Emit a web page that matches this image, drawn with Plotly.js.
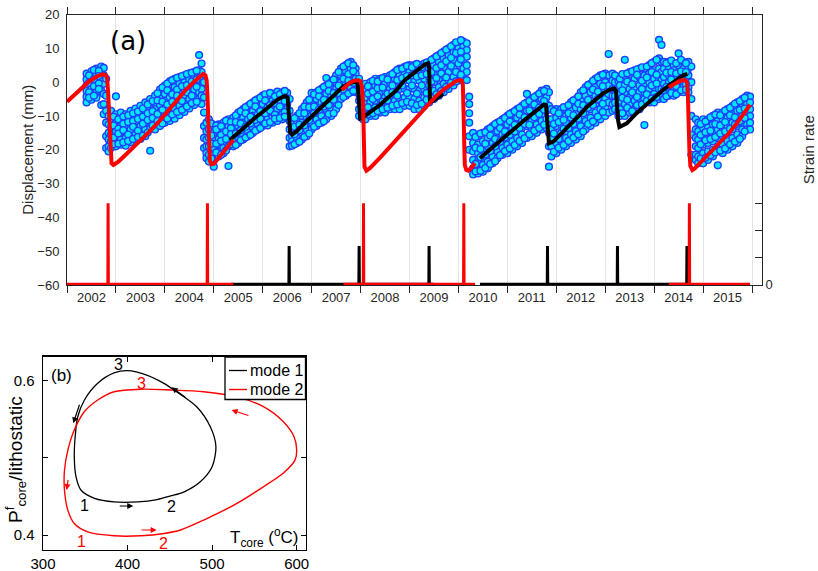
<!DOCTYPE html>
<html>
<head>
<meta charset="utf-8">
<script src="https://cdn.plot.ly/plotly-3.0.1.min.js"></script>
<style>html,body{margin:0;padding:0;background:#fff;}#chart{width:818px;height:571px;}</style>
</head>
<body>
<div id="chart"></div>
<script>
// ---------------- Panel (a) data ----------------
// GPS displacement (mm): sample times (decimal year) and the values observed at each time
const gpsT = [2002.4,2002.5,2002.6,2002.7,2002.75,2002.8,2002.85,2002.9,2003.0,2003.1,2003.2,2003.3,2003.4,2003.5,2003.6,2003.7,2003.8,2003.9,
2004.0,2004.1,2004.2,2004.3,2004.4,2004.5,2004.6,2004.7,2004.75,2004.8,2004.85,2004.9,2005.0,2005.1,2005.2,2005.3,2005.4,2005.5,2005.6,2005.7,2005.8,2005.9,
2006.0,2006.1,2006.2,2006.3,2006.4,2006.5,2006.55,2006.6,2006.7,2006.8,2006.9,2007.0,2007.1,2007.2,2007.3,2007.4,2007.5,2007.6,2007.7,2007.8,2007.9,2007.97,
2008.05,2008.1,2008.2,2008.3,2008.4,2008.5,2008.6,2008.7,2008.8,2008.9,2009.0,2009.1,2009.2,2009.3,2009.4,2009.5,2009.6,2009.7,2009.8,2009.9,
2010.0,2010.1,2010.17,2010.22,2010.3,2010.4,2010.5,2010.6,2010.7,2010.8,2010.9,2011.0,2011.1,2011.2,2011.3,2011.4,2011.5,2011.6,2011.7,2011.8,2011.85,2011.9,
2012.0,2012.1,2012.2,2012.3,2012.4,2012.5,2012.6,2012.7,2012.8,2012.9,2013.0,2013.07,2013.15,2013.2,2013.27,2013.3,2013.4,2013.5,2013.6,2013.7,2013.8,2013.9,
2014.0,2014.1,2014.15,2014.2,2014.3,2014.4,2014.5,2014.6,2014.7,2014.76,2014.85,2014.9,2015.0,2015.1,2015.2,2015.3,2015.4,2015.5,2015.6,2015.7,2015.8,2015.9,2015.96];
const gpsY = [
[2.5,0.8,-1.0,-2.6,-4.3,-6.0],[3.2,1.5,-0.3,-2.0,-3.5,-5.2],[4.0,2.4,0.6,-1.2,-3.0,-4.6],[4.6,3.0,1.3,-0.8,-2.6,-6.8],[4.2,2.0,-0.5,-3.5,-6.5,-9.5],
[1.0,-4.0,-8.5,-12.0,-16.0,-19.5],[-10.0,-12.5,-15.0,-17.0,-19.0,-20.5],[-8.5,-11.0,-13.5,-15.5,-17.5,-19.5],[-4.2,-9.5,-12.0,-14.5,-16.5,-19.0],
[-9.0,-11.5,-13.0,-15.5,-17.0,-18.5],[-9.5,-10.8,-13.0,-14.8,-16.5,-18.8],[-8.5,-10.5,-12.5,-14.0,-16.0,-17.8],[-7.8,-10.0,-12.2,-13.5,-15.5,-17.0],
[-7.0,-9.5,-11.0,-13.0,-15.0,-16.8],[-6.0,-8.5,-10.5,-12.0,-14.0,-16.0],[-5.0,-7.5,-9.5,-11.5,-13.8,-20.3],[-4.0,-6.5,-8.0,-10.5,-12.0,-14.0],
[-2.2,-4.5,-6.8,-9.0,-11.0,-13.0],
[-1.0,-3.5,-5.5,-7.5,-9.8,-12.0],[0.2,-2.5,-4.5,-6.5,-9.0,-11.5],[1.0,-1.5,-3.0,-5.5,-8.0,-10.8],[1.5,-0.5,-2.5,-4.5,-7.0,-9.8],[2.0,0.0,-2.0,-3.8,-6.0,-8.8],
[2.6,0.8,-1.2,-3.0,-5.0,-7.8],[3.0,1.5,-0.5,-2.2,-4.5,-6.8],[8.0,3.5,1.2,-1.0,-3.0,-5.0],[5.5,3.0,0.5,-2.0,-4.0,-6.5],[0.0,-4.5,-9.0,-13.0,-16.5,-19.5],
[-12.0,-14.5,-17.0,-19.0,-21.0,-22.5],[-11.0,-14.0,-16.5,-19.0,-21.5,-23.5],[-13.0,-15.0,-17.0,-19.5,-21.5,-25.0],[-12.5,-14.5,-16.8,-18.5,-20.5,-22.0],
[-12.0,-13.8,-16.0,-18.0,-19.5,-21.0],[-11.0,-13.0,-15.0,-17.0,-19.0,-24.8],[-10.5,-12.5,-14.0,-16.0,-17.5,-19.0],[-9.0,-11.0,-13.0,-15.0,-16.5,-18.0],
[-8.0,-10.5,-12.0,-14.0,-15.8,-17.0],[-7.0,-9.5,-11.0,-13.0,-14.5,-16.0],[-6.0,-8.5,-10.0,-12.0,-13.5,-15.0],[-5.0,-7.5,-9.5,-11.0,-12.5,-14.0],
[-4.0,-6.5,-8.5,-10.0,-11.5,-13.0],[-4.0,-6.0,-7.5,-9.5,-11.0,-12.8],[-3.5,-5.5,-7.0,-8.8,-10.5,-12.0],[-2.8,-4.5,-6.5,-8.0,-10.0,-11.5],
[-3.0,-4.5,-6.0,-7.8,-9.5,-11.0],[-3.2,-4.8,-6.5,-8.0,-9.8,-10.5],[-5.0,-8.5,-11.5,-14.0,-16.5,-19.0],[-11.0,-12.5,-14.5,-16.0,-17.5,-18.8],
[-10.0,-11.5,-13.5,-15.0,-16.5,-18.0],[-8.0,-10.0,-12.0,-13.5,-15.0,-17.0],[-6.0,-8.5,-10.5,-12.0,-14.0,-16.0],[-3.2,-6.0,-8.0,-10.0,-12.0,-14.0],
[-3.0,-5.0,-7.0,-9.0,-11.0,-13.0],[-2.0,-4.0,-6.0,-8.0,-10.0,-12.0],[1.2,-1.0,-3.5,-5.5,-8.0,-11.0],[0.0,-2.0,-4.0,-6.0,-8.0,-10.0],
[2.0,0.0,-2.0,-4.0,-6.0,-8.0],[4.0,2.0,0.0,-1.5,-3.0,-5.0],[5.0,3.2,1.5,-0.5,-2.5,-4.0],[6.0,4.0,2.0,0.5,-1.5,-3.0],[4.0,2.5,1.0,-0.5,-2.0,-3.0],
[1.0,-1.5,-3.5,-5.5,-8.0,-10.0],
[-1.0,-3.0,-5.0,-7.0,-9.0,-11.0],[-0.5,-2.5,-4.5,-6.5,-8.5,-11.0],[0.0,-2.0,-4.0,-6.0,-8.0,-10.0],[1.0,-1.0,-3.0,-5.5,-7.5,-10.0],
[1.0,-1.0,-3.0,-5.0,-7.0,-9.0],[1.5,-0.5,-2.5,-4.5,-6.5,-9.0],[2.0,0.0,-2.0,-4.0,-6.0,-8.0],[3.0,1.0,-1.0,-3.0,-5.5,-8.0],[4.0,2.0,0.0,-2.0,-5.0,-8.0],
[4.5,2.5,0.5,-2.0,-4.5,-7.0],[5.0,3.0,0.5,-2.0,-4.5,-7.0],[5.0,3.0,0.5,-2.0,-5.0,-8.0],[5.0,3.0,0.5,-2.5,-5.5,-8.0],[5.5,3.5,1.0,-2.0,-4.5,-7.0],
[6.0,4.0,1.5,-1.0,-3.5,-6.0],[7.0,5.0,2.5,0.0,-2.5,-5.0],[8.0,6.0,3.5,1.0,-1.5,-4.0],[9.0,7.0,4.5,2.0,-0.5,-3.0],[10.0,8.0,5.5,3.0,0.5,-2.0],
[11.0,9.0,6.5,4.0,1.5,-1.0],
[11.5,10.0,8.0,5.5,3.0,0.5],[12.0,10.5,8.5,6.5,4.0,1.5],[11.5,9.5,7.5,5.0,3.0,0.6],[-4.3,-6.5,-9.2,-12.0,-16.0,-20.0],[-15.0,-18.0,-20.5,-23.0,-25.5,-27.3],
[-16.0,-18.5,-21.0,-23.5,-25.5,-27.0],[-15.0,-17.5,-20.0,-22.5,-24.5,-26.5],[-14.0,-16.5,-19.0,-21.5,-23.5,-25.5],[-13.0,-15.5,-18.0,-20.0,-22.0,-24.0],
[-12.0,-14.5,-16.5,-18.5,-20.5,-22.5],[-11.0,-13.5,-15.5,-17.5,-19.5,-21.5],[-10.0,-12.5,-14.5,-16.5,-18.5,-21.0],[-9.0,-11.5,-13.5,-15.5,-17.5,-20.0],
[-8.0,-10.5,-12.5,-14.5,-16.5,-19.0],[-7.0,-9.5,-11.5,-13.5,-15.5,-18.0],[-3.5,-6.0,-8.5,-10.5,-13.0,-16.5],[-5.0,-7.5,-9.5,-11.5,-13.5,-16.0],
[-4.0,-6.5,-8.5,-10.5,-12.5,-15.0],[-2.5,-5.0,-7.0,-9.5,-11.5,-14.0],[-2.0,-4.5,-6.5,-8.5,-11.0,-13.5],[-3.0,-7.0,-11.0,-15.0,-19.0,-25.0],
[-8.0,-11.0,-14.0,-16.5,-19.0,-22.0],
[-8.0,-10.5,-13.0,-15.5,-18.0,-21.0],[-8.0,-10.5,-12.5,-15.0,-17.5,-20.0],[-8.0,-10.0,-12.0,-14.5,-16.5,-19.0],[-6.0,-8.5,-10.5,-13.0,-15.5,-18.0],
[-5.0,-7.5,-9.5,-12.0,-14.5,-17.0],[-3.0,-5.5,-8.0,-10.5,-13.0,-16.0],[-1.5,-4.0,-6.5,-9.0,-11.5,-14.0],[-0.5,-3.0,-5.5,-8.0,-10.5,-13.0],
[1.0,-1.5,-4.0,-6.5,-9.0,-12.0],[2.0,-0.5,-3.0,-5.5,-8.0,-11.0],[2.5,0.0,-2.5,-5.0,-7.5,-10.0],[8.3,2.0,-1.0,-3.5,-6.0,-9.0],[2.5,0.5,-2.0,-4.0,-6.5,-8.5],
[2.0,0.0,-2.0,-4.0,-6.0,-8.0],[0.3,-2.0,-4.5,-6.5,-8.5,-10.0],[1.0,-1.0,-3.5,-5.5,-8.0,-10.0],[6.6,2.0,-1.0,-3.5,-6.5,-10.0],[3.0,0.5,-2.0,-4.5,-6.5,-9.0],
[3.5,1.0,-1.5,-3.5,-5.5,-8.0],[4.0,1.5,-1.0,-3.0,-5.5,-8.0],[4.0,2.0,-0.5,-3.0,-5.0,-12.7],[5.0,2.5,0.0,-2.0,-4.0,-6.0],
[6.0,3.5,1.0,-1.5,-3.5,-6.0],[12.5,7.0,4.0,1.0,-2.0,-5.0],[11.0,6.0,3.0,0.5,-2.0,-4.5],[6.0,4.0,1.5,-0.5,-2.5,-5.0],[6.0,4.0,2.0,0.0,-2.0,-4.0],
[5.0,3.5,1.5,-0.5,-2.5,-4.0],[8.5,5.0,2.5,0.0,-1.5,-3.0],[6.0,4.0,2.0,0.0,-1.5,-3.0],[6.0,4.0,2.0,0.0,-1.5,-3.0],[4.6,0.0,-5.0,-10.0,-15.5,-21.5],
[-11.0,-14.0,-16.5,-19.0,-21.5,-23.0],[-12.0,-14.5,-17.0,-19.5,-22.0,-24.0],[-11.0,-13.5,-16.0,-18.5,-21.0,-24.0],[-11.0,-13.5,-15.5,-18.0,-20.5,-23.0],
[-10.0,-12.5,-15.0,-17.5,-20.0,-22.0],[-9.0,-11.5,-14.0,-16.5,-19.5,-24.6],[-9.0,-11.0,-13.5,-16.0,-18.5,-21.0],[-8.0,-10.5,-13.0,-15.0,-17.5,-20.0],
[-7.0,-9.5,-12.0,-14.0,-16.5,-19.0],[-6.0,-8.5,-11.0,-13.0,-15.5,-18.0],[-5.0,-7.5,-10.0,-12.0,-14.0,-16.0],[-4.0,-6.5,-9.0,-11.0,-12.5,-14.0],
[-4.3,-6.0,-8.0,-10.0,-12.0,-14.0]];
// additional GPS epochs between the ones above
const gpsT2 = [2002.45,2002.55,2002.65,2002.95,2003.05,2003.15,2003.25,2003.35,2003.45,2003.55,2003.65,2003.75,2003.85,2003.95,2004.05,2004.15,2004.25,2004.35,2004.45,2004.55,2004.65,
2004.95,2005.05,2005.15,2005.25,2005.35,2005.45,2005.55,2005.65,2005.75,2005.85,2005.95,2006.05,2006.15,2006.25,2006.35,2006.45,2006.65,2006.75,2006.85,2006.95,
2007.05,2007.15,2007.25,2007.35,2007.45,2007.55,2007.65,2007.75,2007.85,2008.15,2008.25,2008.35,2008.45,2008.55,2008.65,2008.75,2008.85,2008.95,
2009.05,2009.15,2009.25,2009.35,2009.45,2009.55,2009.65,2009.75,2009.85,2009.95,2010.05,2010.35,2010.45,2010.55,2010.65,2010.75,2010.85,2010.95,
2011.05,2011.15,2011.25,2011.35,2011.45,2011.55,2011.65,2011.75,2011.95,2012.05,2012.15,2012.25,2012.35,2012.45,2012.55,2012.65,2012.75,2012.85,2012.95,
2013.35,2013.45,2013.55,2013.65,2013.75,2013.85,2013.95,2014.05,2014.25,2014.35,2014.45,2014.55,2014.65,
2014.95,2015.05,2015.15,2015.25,2015.35,2015.45,2015.55,2015.65,2015.75,2015.85];
const gpsY2 = [
[2.0,-0.2,-3.0,-4.6],[3.6,0.9,-1.2,-4.0],[3.3,1.8,-0.4,-2.0],[-10.2,-12.8,-16.4,-18.4],[-11.0,-13.8,-15.2,-18.2],[-10.2,-12.3,-14.2,-17.8],[-9.8,-11.8,-15.5,-17.4],
[-9.2,-11.5,-13.2,-16.8],[-8.7,-10.9,-14.4,-16.2],[-7.8,-10.2,-12.3,-15.8],[-6.6,-9.2,-11.2,-14.9],[-5.6,-8.6,-10.6,-12.8],[-3.3,-5.4,-9.4,-11.5],[-1.6,-5.8,-8.2,-12.2],
[-0.4,-2.4,-6.6,-10.8],[0.6,-3.6,-5.8,-9.6],[1.3,-2.2,-4.0,-8.8],[1.8,-1.2,-5.6,-8.2],[2.4,-0.9,-3.0,-7.2],[2.8,0.2,-4.0,-6.2],[3.4,0.8,-1.4,-5.8],
[-12.2,-15.8,-18.2,-22.6],[-12.8,-14.0,-18.2,-20.8],[-13.0,-15.6,-17.4,-21.5],[-11.4,-14.6,-16.8,-20.2],[-11.8,-13.6,-15.4,-18.4],[-9.8,-11.8,-15.2,-18.6],
[-8.6,-12.2,-14.2,-17.2],[-7.4,-9.2,-13.2,-16.4],[-6.4,-10.2,-12.2,-15.6],[-5.4,-7.2,-11.2,-14.4],[-4.6,-8.6,-10.8,-13.6],[-3.6,-5.4,-9.2,-12.2],
[-3.2,-6.8,-8.4,-11.8],[-4.2,-6.2,-9.6,-10.8],[-3.6,-5.4,-7.2,-10.6],[-2.6,-5.6,-8.8,-10.2],[-10.6,-13.2,-15.4,-18.4],[-9.2,-12.6,-14.2,-17.6],
[-7.2,-9.2,-12.8,-16.2],[-5.2,-7.4,-11.2,-15.2],
[-3.6,-7.2,-9.2,-13.2],[-2.4,-4.2,-8.2,-12.2],[-1.4,-5.2,-7.2,-11.6],[-0.6,-2.6,-6.8,-9.4],[0.8,-3.2,-5.2,-9.2],[3.0,-1.0,-3.2,-6.8],[4.6,1.0,-2.2,-4.4],
[5.6,2.4,0.4,-3.4],[5.0,3.2,-0.2,-2.6],[-1.2,-3.4,-7.4,-9.6],[0.4,-2.8,-5.0,-9.2],[0.2,-1.8,-4.2,-8.6],[1.2,-1.6,-5.8,-8.0],[0.8,-3.4,-5.4,-7.6],
[2.4,-1.0,-3.0,-7.0],[3.6,0.6,-4.0,-6.6],[4.0,1.2,-1.0,-6.2],[4.8,1.8,-3.2,-5.8],
[4.4,2.0,-1.0,-6.2],[5.4,1.6,-3.4,-6.8],[4.4,2.0,-1.0,-6.4],[5.8,2.4,-3.2,-5.2],[6.6,3.0,0.2,-4.6],[7.6,4.2,1.2,-3.6],[8.6,5.0,2.6,-2.6],
[9.6,6.2,1.4,-1.4],[10.6,7.2,4.8,-0.2],[11.8,8.6,3.0,0.2],[12.4,9.0,6.8,2.2],[-16.2,-19.4,-24.2,-26.4],[-15.2,-19.8,-22.2,-26.2],[-14.8,-18.2,-21.4,-25.4],
[-13.6,-15.8,-20.4,-24.2],[-12.4,-16.8,-19.0,-23.4],[-11.6,-13.6,-17.6,-21.6],[-10.6,-14.6,-16.4,-20.4],
[-9.4,-11.6,-15.6,-19.6],[-8.6,-12.6,-14.6,-18.6],[-7.6,-9.6,-13.6,-17.4],[-6.4,-10.4,-12.4,-16.6],[-5.6,-8.4,-12.6,-15.4],[-4.4,-6.6,-10.4,-14.4],
[-3.4,-7.6,-9.4,-13.6],[-2.6,-5.6,-8.2,-12.6],[-8.6,-12.4,-15.2,-20.6],[-9.2,-11.8,-16.8,-19.4],[-7.4,-11.2,-13.8,-18.6],[-6.8,-9.2,-13.6,-17.4],
[-5.4,-9.8,-12.4,-16.4],[-4.2,-6.4,-10.8,-15.4],[-2.4,-6.8,-9.2,-14.6],[-0.8,-5.2,-7.6,-12.4],[0.4,-2.2,-6.8,-11.6],[1.4,-2.8,-5.0,-10.2],[2.2,-1.2,-6.4,-8.8],
[2.4,-2.4,-4.6,-9.2],[2.6,0.2,-5.2,-7.6],[3.2,-0.6,-3.0,-8.6],[3.8,2.2,-4.4,-6.8],[4.4,0.4,-2.0,-6.6],[4.6,1.4,-3.6,-5.6],[5.6,3.0,-1.0,-4.8],
[6.6,2.2,-0.4,-4.4],[5.6,2.8,-1.4,-4.2],[6.4,3.0,0.8,-3.2],[5.6,2.6,-1.2,-3.6],[6.6,3.2,1.0,-2.4],[5.6,3.0,-0.6,-2.2],
[-12.4,-15.6,-18.4,-22.6],[-11.6,-14.8,-17.2,-22.4],[-10.4,-14.4,-16.8,-21.6],[-9.6,-12.4,-16.2,-20.8],[-9.8,-12.8,-15.2,-20.2],[-8.4,-11.8,-14.6,-19.6],
[-7.6,-9.8,-13.8,-18.4],[-6.4,-10.4,-12.6,-17.6],[-5.6,-8.2,-11.6,-16.8],[-4.6,-7.8,-10.6,-14.6]];

// Model displacement, mode 1 (black) and mode 2 (red); null separates segments
const mode1T = [2005.33,2005.50,2005.67,2005.84,2006.01,2006.15,2006.29,2006.40,2006.47,2006.51,2006.53,2006.545,2006.56,2006.60,2006.69,2006.86,2007.03,2007.20,2007.38,2007.52,2007.65,2007.78,2007.89,2007.94,2007.96,2007.975,2007.99,2008.02,2008.21,2008.40,2008.57,2008.74,2008.90,2009.05,2009.20,2009.32,2009.38,2009.40,2009.41,2009.42,2009.50,2009.60,2009.69,
 null,2010.44,2010.65,2010.85,2011.02,2011.19,2011.36,2011.53,2011.65,2011.75,2011.79,2011.81,2011.83,2011.85,2011.94,2012.08,2012.21,2012.35,2012.48,2012.62,2012.79,2012.96,2013.10,2013.18,2013.22,2013.24,2013.265,2013.29,2013.44,2013.64,2013.81,2013.98,2014.15,2014.32,2014.46,2014.60,2014.68];
const mode1Y = [-17.1,-14.8,-12.7,-10.6,-8.7,-6.9,-5.3,-4.4,-4.1,-4.6,-8.0,-12.0,-14.8,-15.5,-14.6,-12.1,-9.7,-7.2,-4.8,-3.0,-1.3,-0.3,0.1,-0.3,-4.0,-9.0,-10.8,-10.7,-8.7,-6.7,-4.5,-2.3,0.6,2.4,4.2,5.3,5.6,4.5,-1.0,-6.0,-5.4,-4.3,-3.5,
 null,-22.5,-20.0,-17.6,-15.3,-13.2,-11.1,-9.2,-7.7,-6.6,-6.8,-10.0,-15.0,-18.1,-17.6,-15.6,-13.6,-11.6,-9.7,-7.4,-5.2,-3.3,-2.2,-1.9,-2.5,-7.0,-11.5,-13.3,-12.2,-9.2,-7.0,-4.8,-2.7,-0.8,0.8,2.1,2.4];
const mode2T = [2002.00,2002.15,2002.30,2002.45,2002.60,2002.72,2002.79,2002.82,2002.84,2002.86,2002.875,2002.89,2002.91,2002.95,2003.05,2003.22,2003.40,2003.56,2003.73,2003.90,2004.07,2004.24,2004.41,2004.58,2004.70,2004.78,2004.83,2004.855,2004.87,2004.885,2004.90,2004.92,2004.95,2005.00,2005.10,2005.20,2005.30,2005.40,
 null,2007.62,2007.70,2007.78,2007.87,2007.95,2008.00,2008.03,2008.05,2008.06,2008.07,2008.08,2008.12,2008.20,2008.40,2008.60,2008.80,2009.00,2009.20,2009.40,2009.55,2009.70,2009.85,2009.95,2010.03,2010.07,2010.09,2010.10,2010.11,2010.12,2010.13,2010.16,2010.20,2010.27,2010.34,
 null,2014.30,2014.40,2014.53,2014.63,2014.67,2014.69,2014.70,2014.72,2014.74,2014.78,2014.83,2015.00,2015.18,2015.35,2015.52,2015.69,2015.83,2015.96];
const mode2Y = [-5.8,-3.8,-1.8,0.2,1.6,2.3,2.1,1.2,-3.0,-10.0,-17.0,-22.0,-24.0,-24.5,-23.5,-21.2,-18.8,-16.6,-14.0,-11.3,-8.3,-5.4,-2.6,-0.1,1.6,2.4,2.0,0.5,-4.0,-12.0,-19.0,-23.3,-24.3,-24.2,-22.4,-20.5,-18.8,-17.1,
 null,-2.3,-1.1,-0.2,0.4,0.6,0.2,-1.5,-6.0,-13.0,-21.0,-25.0,-26.2,-25.3,-22.3,-19.1,-15.9,-12.8,-9.6,-6.4,-4.0,-2.1,-0.5,0.3,0.6,0.4,-0.8,-4.0,-12.0,-19.0,-24.5,-26.0,-26.2,-25.2,-24.0,
 null,-1.5,-0.6,0.4,0.6,0.0,-4.0,-12.0,-20.0,-24.8,-26.0,-25.5,-23.0,-20.6,-18.1,-15.2,-12.2,-9.5,-6.7];

// Strain rate (arbitrary units, right axis)
const rate1T = [2005.35,2006.535,2006.54,2006.545,2007.965,2007.97,2007.975,2009.395,2009.40,2009.405,2009.5,null,2010.44,2011.815,2011.82,2011.825,2013.245,2013.25,2013.255,2014.665,2014.67,2014.675,2014.7];
const rate1V = [0,0,1.42,0,0,1.42,0,0,1.42,0,0,null,0,0,1.42,0,0,1.42,0,0,1.42,0,0];
const rate2T = [2002.0,2002.835,2002.84,2002.845,2004.865,2004.87,2004.875,2005.4,null,2007.65,2008.055,2008.06,2008.065,2010.105,2010.11,2010.115,2010.34,null,2014.3,2014.715,2014.72,2014.725,2015.96];
const rate2V = [0,0,3,0,0,3,0,0,null,0,0,3,0,0,3,0,0,null,0,0,3,0,0];

const yearTicks = [2002,2003,2004,2005,2006,2007,2008,2009,2010,2011,2012,2013,2014,2015,2016];
const yearLabelPos = [2002.5,2003.5,2004.5,2005.5,2006.5,2007.5,2008.5,2009.5,2010.5,2011.5,2012.5,2013.5,2014.5,2015.5];
const yearLabels = ['2002','2003','2004','2005','2006','2007','2008','2009','2010','2011','2012','2013','2014','2015'];

// ---------------- Panel (b) data ----------------
const loop1T = [412,435,451,467,486,500,504.5,498,482,458,443,423.5,400,384,364.7,349,341,338,337,339,345,361,384,412];
const loop1P = [0.443,0.446,0.4506,0.456,0.469,0.4885,0.5145,0.540,0.566,0.5857,0.5966,0.607,0.613,0.610,0.5966,0.575,0.553,0.527,0.501,0.4756,0.458,0.4476,0.443,0.443];
const loop2T = [384,415.6,443,462.7,490,529.4,560.7,584,598,600,597,584,560.7,529.4,490,451,415.6,384,364.7,349,337,329.4,325.4,325.4,329.4,337,353,384];
const loop2P = [0.399,0.399,0.402,0.4065,0.4194,0.441,0.4626,0.48,0.497,0.51,0.527,0.547,0.5663,0.579,0.5857,0.588,0.589,0.5857,0.575,0.56,0.536,0.51,0.484,0.458,0.432,0.415,0.404,0.399];

// ---------------- build ----------------
const gx = [], gy = [];
gpsT.forEach((t, i) => gpsY[i].forEach(v => { gx.push(t); gy.push(v); }));
gpsT2.forEach((t, i) => gpsY2[i].forEach(v => { gx.push(t); gy.push(v); }));

const FONT = 'Liberation Sans, Arial, Helvetica, sans-serif';
const AX = '#262626';

const traces = [
  {type:'scatter', mode:'markers', x:gx, y:gy, xaxis:'x', yaxis:'y', showlegend:false, hoverinfo:'skip',
   marker:{size:6.8, color:'#00e8ff', line:{color:'#1d40ff', width:1.4}}},
  {type:'scatter', mode:'lines', x:mode1T, y:mode1Y, xaxis:'x', yaxis:'y', showlegend:false, connectgaps:false,
   line:{color:'#000000', width:4}},
  {type:'scatter', mode:'lines', x:mode2T, y:mode2Y, xaxis:'x', yaxis:'y', showlegend:false, connectgaps:false,
   line:{color:'#ff0000', width:4}},
  {type:'scatter', mode:'lines', x:rate1T, y:rate1V, xaxis:'x', yaxis:'y2', showlegend:false, connectgaps:false,
   line:{color:'#000000', width:3}},
  {type:'scatter', mode:'lines', x:rate2T, y:rate2V, xaxis:'x', yaxis:'y2', showlegend:false, connectgaps:false,
   line:{color:'#ff0000', width:3}},
  {type:'scatter', mode:'markers', x:[null], y:[null], xaxis:'x3', yaxis:'y', showlegend:false, hoverinfo:'skip'},
  {type:'scatter', mode:'lines', x:loop1T, y:loop1P, xaxis:'x2', yaxis:'y3', name:'mode 1', showlegend:false,
   line:{color:'#000000', width:1.3, shape:'spline', smoothing:0.8}},
  {type:'scatter', mode:'lines', x:loop2T, y:loop2P, xaxis:'x2', yaxis:'y3', name:'mode 2', showlegend:false,
   line:{color:'#ff0000', width:1.4, shape:'spline', smoothing:0.8}}
];

const W = 818, H = 571;
const px = v => v / W, py = v => 1 - v / H;

function arrow(xh, yh, xt, yt, color) {
  return {xref:'x2', yref:'y3', axref:'x2', ayref:'y3', x:xh, y:yh, ax:xt, ay:yt, text:'', showarrow:true,
          arrowhead:2, arrowsize:1, arrowwidth:1.2, arrowcolor:color};
}
function lab(x, y, t, color) {
  return {xref:'x2', yref:'y3', x:x, y:y, text:t, showarrow:false, xanchor:'center', yanchor:'middle',
          font:{family:FONT, size:16, color:color}};
}
function ptext(x, y, t, size, extra) {
  return Object.assign({xref:'paper', yref:'paper', x:px(x), y:py(y), text:t, showarrow:false,
          xanchor:'center', yanchor:'middle', font:{family:FONT, size:size, color:'#000'}}, extra || {});
}

const layout = {
  width: W, height: H,
  margin: {l:0, r:0, t:0, b:0},
  paper_bgcolor: '#ffffff', plot_bgcolor: 'rgba(0,0,0,0)',
  font: {family: FONT, size: 13, color: AX},
  showlegend: false,
  xaxis: {domain:[px(67), px(762)], range:[2002, 2016.204], anchor:'y',
          tickmode:'array', tickvals:yearTicks, showticklabels:false,
          ticks:'outside', ticklen:7, tickcolor:AX, tickwidth:1,
          showline:true, linecolor:AX, linewidth:1, mirror:'ticks',
          showgrid:true, gridcolor:'#e4e4e4', gridwidth:1, zeroline:false},
  xaxis3: {domain:[px(67), px(762)], range:[2002, 2016.204], anchor:'y', overlaying:'x', side:'bottom',
          tickmode:'array', tickvals:yearLabelPos, ticktext:yearLabels, ticks:'', ticklabelstandoff:3,
          showline:false, showgrid:false, zeroline:false, tickfont:{family:FONT, size:13, color:AX}},
  yaxis: {domain:[py(285), py(14.5)], range:[-60, 20], anchor:'x',
          tickmode:'array', tickvals:[-60,-50,-40,-30,-20,-10,0,10,20], ticks:'',
          ticklabelstandoff:4, showline:true, linecolor:AX, linewidth:1,
          showgrid:false, zeroline:false, tickfont:{family:FONT, size:13, color:AX},
          title:{text:'Displacement (mm)', font:{family:FONT, size:15, color:AX}, standoff:0}},
  yaxis2: {domain:[py(285), py(14.5)], range:[-0.03, 10.0], anchor:'x', overlaying:'y', side:'right',
          tickmode:'array', tickvals:[0,1,2,3], ticktext:['0','','',''], ticks:'inside', ticklen:7, tickcolor:AX,
          showline:true, linecolor:AX, linewidth:1, showgrid:false, zeroline:false,
          tickfont:{family:FONT, size:13, color:AX},
          title:{text:'Strain rate', font:{family:FONT, size:15, color:AX}, standoff:31}},
  xaxis2: {domain:[px(43), px(306)], range:[300, 611], anchor:'y3',
          tickmode:'array', tickvals:[300,400,500,600], ticks:'inside', ticklen:5, tickcolor:'#000',
          showline:true, linecolor:'#000', linewidth:1.3, mirror:'ticks',
          showgrid:false, zeroline:false, ticklabelstandoff:0, tickfont:{family:FONT, size:15, color:'#000'}},
  yaxis3: {domain:[py(550), py(356.7)], range:[0.3806, 0.6311], anchor:'x2',
          tickmode:'array', tickvals:[0.4,0.5,0.6], ticktext:['0.4','','0.6'], ticks:'inside', ticklen:5, tickcolor:'#000',
          showline:true, linecolor:'#000', linewidth:1.3, mirror:'ticks',
          showgrid:false, zeroline:false, ticklabelstandoff:4, tickfont:{family:FONT, size:15, color:'#000'}},
  shapes: [
    {type:'rect', xref:'paper', yref:'paper', x0:px(225), x1:px(305.5), y0:py(399.5), y1:py(357),
     line:{color:'#000', width:1.3}, fillcolor:'#ffffff', layer:'above'},
    {type:'line', xref:'paper', yref:'paper', x0:px(229), x1:px(247), y0:py(370.5), y1:py(370.5), line:{color:'#000', width:1.3}},
    {type:'line', xref:'paper', yref:'paper', x0:px(229), x1:px(247), y0:py(389.5), y1:py(389.5), line:{color:'#ff0000', width:1.4}}
  ],
  annotations: [
    ptext(128, 41, '(a)', 26, {font:{family:'DejaVu Sans, sans-serif', size:26, color:'#000'}}),
    ptext(61, 375, '(b)', 17),
    ptext(248, 370.5, 'mode 1', 16, {xanchor:'left'}),
    ptext(248, 389.5, 'mode 2', 16, {xanchor:'left'}),
    ptext(15, 460, 'P<sup>f</sup><sub>core</sub>/lithostatic', 19, {textangle:-90}),
    ptext(264, 537, 'T<sub>core</sub> (<sup>o</sup>C)', 17),
    lab(389, 0.6216, '3', '#000'), lab(349.6, 0.4389, '1', '#000'), lab(452, 0.4367, '2', '#000'),
    lab(416.7, 0.5966, '3', '#ff0000'), lab(345.7, 0.3913, '1', '#ff0000'), lab(442.2, 0.3892, '2', '#ff0000'),
    arrow(406.7, 0.4376, 389, 0.4376, '#000'),
    arrow(434.4, 0.4065, 414.7, 0.4065, '#ff0000'),
    arrow(335.8, 0.5448, 343.7, 0.5707, '#000'),
    arrow(328, 0.4583, 329.9, 0.4735, '#ff0000'),
    arrow(452.1, 0.5914, 469.9, 0.5772, '#000'),
    arrow(523, 0.562, 544.7, 0.5542, '#ff0000')
  ]
};

Plotly.newPlot('chart', traces, layout, {staticPlot:true, displayModeBar:false});
</script>
</body>
</html>
